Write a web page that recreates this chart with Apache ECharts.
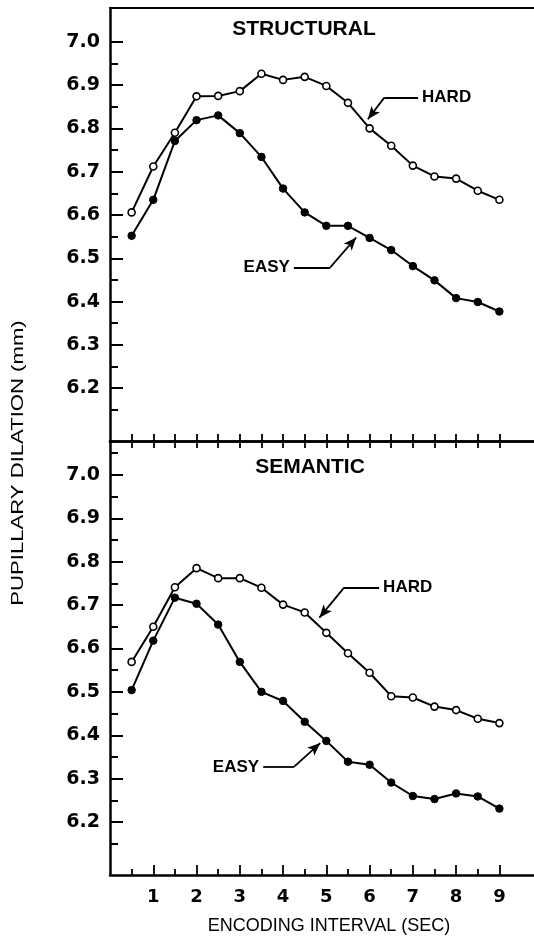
<!DOCTYPE html>
<html>
<head>
<meta charset="utf-8">
<script src="https://cdn.jsdelivr.net/npm/echarts@6/dist/echarts.min.js"></script>
<style>
html,body{margin:0;padding:0;background:#fff;}
#c{width:534px;height:947px;}
</style>
</head>
<body>
<div id="c"></div>
<script>
// ---- data ----
const xs = [0.5, 1, 1.5, 2, 2.5, 3, 3.5, 4, 4.5, 5, 5.5, 6, 6.5, 7, 7.5, 8, 8.5, 9];
const structHard = [6.606, 6.712, 6.790, 6.874, 6.875, 6.886, 6.926, 6.912, 6.919, 6.898, 6.859, 6.800, 6.760, 6.714, 6.689, 6.684, 6.656, 6.635];
const structEasy = [6.552, 6.635, 6.771, 6.819, 6.830, 6.789, 6.734, 6.661, 6.606, 6.575, 6.575, 6.547, 6.519, 6.482, 6.449, 6.408, 6.399, 6.377];
const semHard = [6.569, 6.650, 6.741, 6.785, 6.762, 6.762, 6.740, 6.701, 6.683, 6.636, 6.589, 6.544, 6.490, 6.487, 6.466, 6.458, 6.438, 6.428];
const semEasy = [6.504, 6.618, 6.717, 6.703, 6.655, 6.569, 6.500, 6.479, 6.431, 6.387, 6.339, 6.332, 6.291, 6.260, 6.253, 6.266, 6.259, 6.231];
const xLabels = [1, 2, 3, 4, 5, 6, 7, 8, 9];
const xHalfTicks = [0.5, 1.5, 2.5, 3.5, 4.5, 5.5, 6.5, 7.5, 8.5];
const yLabels = [6.2, 6.3, 6.4, 6.5, 6.6, 6.7, 6.8, 6.9, 7.0];
const yMinorTop = [6.15, 6.25, 6.35, 6.45, 6.55, 6.65, 6.75, 6.85, 6.95];
const yMinorBottom = [6.15, 6.25, 6.35, 6.45, 6.55, 6.65, 6.75, 6.85, 6.95, 7.05];
const panelTitles = ['STRUCTURAL', 'SEMANTIC'];
const xName = 'ENCODING INTERVAL (SEC)';
const yName = 'PUPILLARY DILATION (mm)';
// annotations in data coordinates: [textEnd, elbow, arrowTip]
const annStructHard = {text: 'HARD', end: [7.12, 6.871], elbow: [6.34, 6.871], tip: [5.96, 6.821]};
const annStructEasy = {text: 'EASY', end: [4.25, 6.479], elbow: [5.09, 6.479], tip: [5.69, 6.548]};
const annSemHard = {text: 'HARD', end: [6.22, 6.740], elbow: [5.41, 6.740], tip: [4.84, 6.671]};
const annSemEasy = {text: 'EASY', end: [3.54, 6.327], elbow: [4.25, 6.327], tip: [4.86, 6.382]};

const Y_MIN = 6.078, Y_MAX = 7.078, X_MIN = 0, X_MAX = 9.8;
const BLACK = '#000';
const numFont = 'DejaVu Sans';
const txtFont = 'Liberation Sans';

const zip = (a, b) => a.map((v, i) => [v, b[i]]);

const gridTop = {left: 110, top: 8, width: 424, height: 433, outerBoundsMode: 'none'};
const gridBot = {left: 110, top: 441, width: 424, height: 434, outerBoundsMode: 'none'};

function xAx(grid, pos, opts) {
  return Object.assign({
    type: 'value', gridIndex: grid, position: pos, min: X_MIN, max: X_MAX,
    splitLine: {show: false},
    axisLine: {show: true, onZero: false, lineStyle: {color: BLACK, width: 2.5}},
    axisTick: {show: false},
    axisLabel: {show: false}
  }, opts);
}
function yAx(grid, opts) {
  return Object.assign({
    type: 'value', gridIndex: grid, position: 'left', min: Y_MIN, max: Y_MAX,
    splitLine: {show: false},
    axisLine: {show: true, onZero: false, lineStyle: {color: BLACK, width: 2.5}},
    axisTick: {show: false},
    axisLabel: {show: false}
  }, opts);
}

const yMajorLabeled = {
  axisTick: {show: true, inside: true, length: 13, customValues: yLabels, lineStyle: {color: BLACK, width: 2}},
  axisLabel: {show: true, customValues: yLabels, margin: 10, color: BLACK, fontFamily: numFont, fontWeight: 'bold', fontSize: 19,
    formatter: v => v.toFixed(1)}
};

function annLines(a) {
  return [
    [{coord: a.elbow}, {coord: a.end, label: {show: true, formatter: a.text, position: 'end', distance: 4,
      color: BLACK, fontFamily: txtFont, fontWeight: 'bold', fontSize: 17}}]
  ];
}
function annArrow(a) {
  return [[{coord: a.elbow}, {coord: a.tip}]];
}
function markLines(data, arrow) {
  return {
    silent: true, animation: false,
    symbol: arrow ? ['none', 'arrow'] : ['none', 'none'],
    symbolSize: [8, 13],
    label: {show: false},
    lineStyle: {color: BLACK, width: 1.8, type: 'solid'},
    emphasis: {disabled: true},
    data: data
  };
}

function lineSeries(xi, yi, ys, open, ml) {
  return {
    type: 'line', xAxisIndex: xi, yAxisIndex: yi,
    data: zip(xs, ys),
    symbol: 'circle', symbolSize: open ? 7 : 7.5,
    showSymbol: true,
    itemStyle: open ? {color: '#fff', borderColor: BLACK, borderWidth: 1.6} : {color: BLACK, borderColor: BLACK, borderWidth: 1},
    lineStyle: {color: BLACK, width: 2},
    emphasis: {disabled: true},
    markLine: ml,
    z: 3
  };
}

const chart = echarts.init(document.getElementById('c'), null, {renderer: 'canvas'});
chart.setOption({
  animation: false,
  backgroundColor: '#fff',
  grid: [gridTop, gridBot, Object.assign({}, gridTop), Object.assign({}, gridBot)],
  xAxis: [
    // 0: top panel bottom (middle line), ticks pointing up
    xAx(0, 'bottom', {axisTick: {show: true, inside: true, length: 7, customValues: xs, lineStyle: {color: BLACK, width: 1.8}}}),
    // 1: top border
    xAx(0, 'top', {axisLine: {show: true, onZero: false, lineStyle: {color: BLACK, width: 2.2}}}),
    // 2: bottom panel bottom axis, major ticks + labels
    xAx(1, 'bottom', {
      axisTick: {show: true, inside: true, length: 10, customValues: xLabels, lineStyle: {color: BLACK, width: 1.8}},
      axisLabel: {show: true, customValues: xLabels, margin: 13, color: BLACK, fontFamily: numFont, fontWeight: 'bold', fontSize: 18,
        formatter: v => String(v)}
    }),
    // 3: bottom panel top (middle line), ticks pointing down
    xAx(1, 'top', {axisTick: {show: true, inside: true, length: 7, customValues: xs, lineStyle: {color: BLACK, width: 1.8}}}),
    // 4: helper for top minor y ticks
    xAx(2, 'bottom', {show: false}),
    // 5: helper for bottom minor x ticks
    xAx(3, 'bottom', {axisLine: {show: false}, axisTick: {show: true, inside: true, length: 6, customValues: xHalfTicks, lineStyle: {color: BLACK, width: 1.8}}})
  ],
  yAxis: [
    yAx(0, yMajorLabeled),
    yAx(1, yMajorLabeled),
    yAx(2, {axisLine: {show: false}, axisTick: {show: true, inside: true, length: 8, customValues: yMinorTop, lineStyle: {color: BLACK, width: 2}}}),
    yAx(3, {axisLine: {show: false}, axisTick: {show: true, inside: true, length: 8, customValues: yMinorBottom, lineStyle: {color: BLACK, width: 2}}})
  ],
  series: [
    lineSeries(0, 0, structEasy, false, markLines(annLines(annStructHard).concat(annLines(annStructEasy)), false)),
    lineSeries(0, 0, structHard, true, markLines(annArrow(annStructHard).concat(annArrow(annStructEasy)), true)),
    lineSeries(2, 1, semEasy, false, markLines(annLines(annSemHard).concat(annLines(annSemEasy)), false)),
    lineSeries(2, 1, semHard, true, markLines(annArrow(annSemHard).concat(annArrow(annSemEasy)), true))
  ],
  graphic: [
    {type: 'text', x: 304, y: 29, style: {text: panelTitles[0], font: 'bold 21px "Liberation Sans"', fill: BLACK, align: 'center', verticalAlign: 'middle'}},
    {type: 'text', x: 310, y: 467, style: {text: panelTitles[1], font: 'bold 21px "Liberation Sans"', fill: BLACK, align: 'center', verticalAlign: 'middle'}},
    {type: 'text', x: 329, y: 926, style: {text: xName, font: '18px "Liberation Sans"', fill: BLACK, align: 'center', verticalAlign: 'middle'}},
    {type: 'text', x: 18, y: 463, rotation: Math.PI / 2, scaleX: 1.3, style: {text: yName, font: '17px "Liberation Sans"', fill: BLACK, align: 'center', verticalAlign: 'middle'}}
  ]
});
</script>
</body>
</html>
